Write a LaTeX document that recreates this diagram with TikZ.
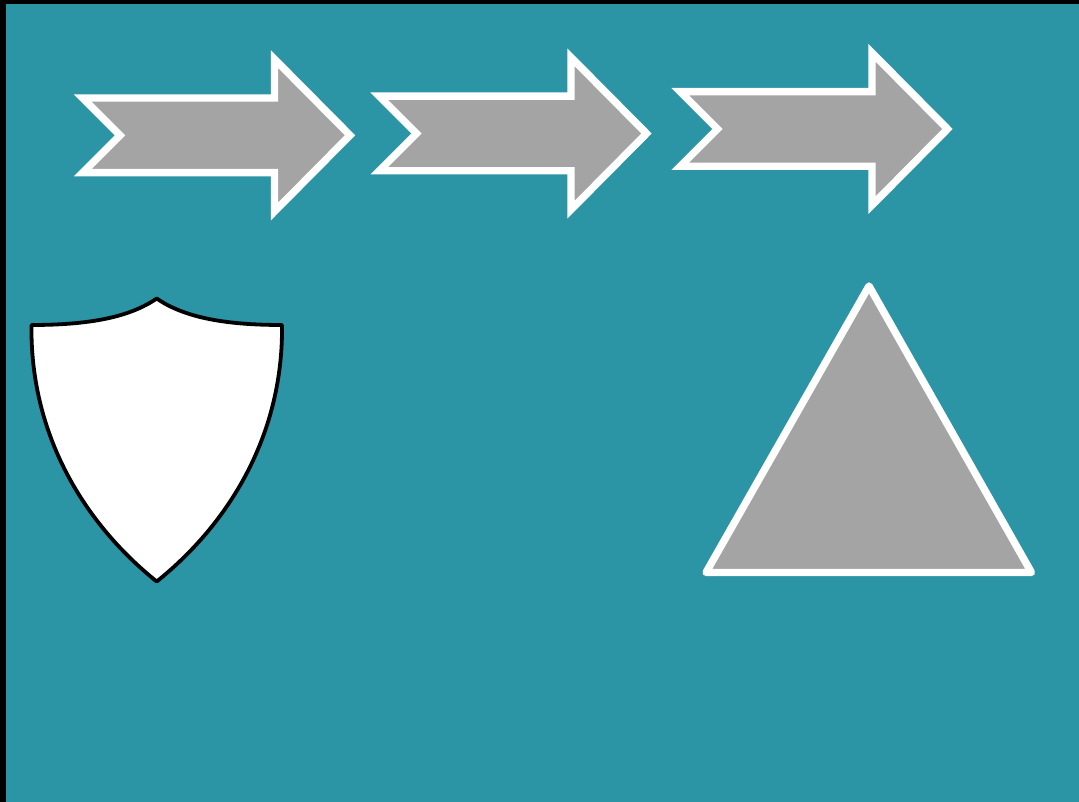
\documentclass[tikz,border=0pt]{standalone}
\usepackage{tikz}
\definecolor{backteal}{RGB}{43,148,165}
\definecolor{arrowgray}{RGB}{164,164,164}
\tikzstyle{backdrop} = [
    fill=backteal
]
\tikzstyle{chevron} = [
    fill=arrowgray,
    draw=white,
    line width=7.4pt,
    line join=miter
]
\tikzstyle{shieldshape} = [
    fill=white,
    draw=black,
    line width=3.8pt,
    line join=round
]
\tikzstyle{trianglepath} = [
    fill=arrowgray,
    draw=white,
    line width=7.4pt,
    line join=round
]

\begin{document}
\begin{tikzpicture}[x=1pt, y=-1pt]

\useasboundingbox (0,0) rectangle (1079,802);
\fill [black] (0,0) rectangle (1079,802);
\fill [backdrop] (6,4) rectangle (1079,802);

% three arrows in a row
\foreach \nx/\cy in {120/135.3, 416.5/133.5, 717.5/129}
    \draw [chevron, shift={(\nx,\cy)}]
        (-37.3,-37.3) -- (154.5,-37.3) -- (154.5,-76.2) -- (230,0)
        -- (154.5,76.2) -- (154.5,37.3) -- (-37.3,37.3) -- (0,0) -- cycle;

% shield
\draw [shieldshape]
    (156.7,298.5) .. controls (130,317) and (90,325) .. (31.5,325)
    .. controls (30,430) and (80,520) .. (156.7,581.5)
    .. controls (233.4,520) and (283.4,430) .. (282,325)
    .. controls (223.4,325) and (183.4,317) .. (156.7,298.5) -- cycle;

% triangle
\draw [trianglepath] (869,286) -- (1031.5,572.5) -- (706,572.5) -- cycle;

\end{tikzpicture}
\end{document}
